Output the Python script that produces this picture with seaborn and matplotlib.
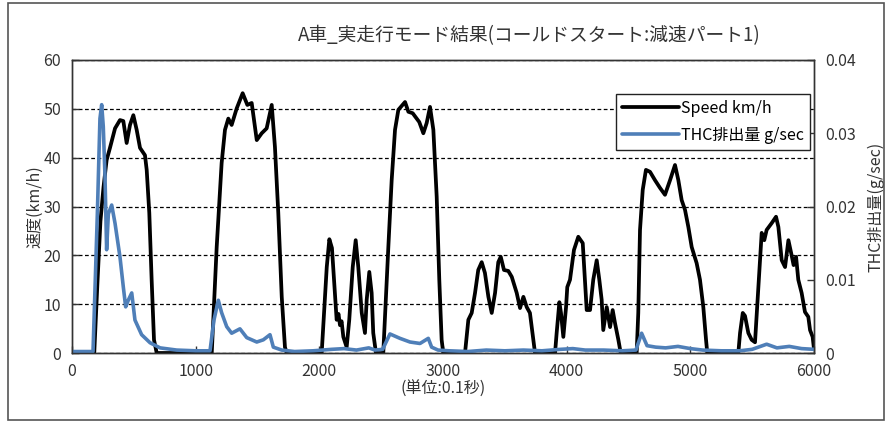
import numpy as np
import pandas as pd
import matplotlib
matplotlib.use("Agg")
import matplotlib.pyplot as plt
from matplotlib.patches import Rectangle
import seaborn as sns

# Vehicle speed (km/h) against time (unit: 0.1 s)
speed_t = [0, 150, 180, 205, 230, 255, 280, 307, 348, 388, 415, 442, 469, 496, 523, 550, 590, 604, 625, 644, 663, 685,
           1130, 1170, 1210, 1237, 1264, 1291, 1332, 1380, 1418, 1453, 1494, 1534, 1574, 1615, 1641, 1668, 1696, 1722, 1736,
           2019, 2060, 2081, 2102, 2119, 2140, 2155, 2167, 2180, 2194, 2221, 2242, 2270, 2294, 2315, 2343, 2369, 2383, 2404, 2423, 2436, 2458,
           2517, 2558, 2585, 2612, 2639, 2693, 2720, 2755, 2808, 2841, 2868, 2895, 2922, 2949, 2970, 2989, 3002,
           3178, 3205, 3232, 3259, 3285, 3313, 3339, 3367, 3394, 3421, 3447, 3467, 3493, 3528, 3556, 3596, 3623, 3650, 3677, 3703, 3730, 3744,
           3906, 3919, 3941, 3954, 3973, 3995, 4005, 4027, 4059, 4094, 4130, 4162, 4189, 4215, 4243, 4264, 4283, 4296, 4324, 4351, 4372, 4391, 4418, 4437,
           4566, 4579, 4593, 4615, 4641, 4674, 4714, 4755, 4795, 4836, 4876, 4903, 4930, 4957, 4984, 5011, 5051, 5078, 5105, 5127, 5137,
           5388, 5402, 5424, 5442, 5469, 5496, 5523, 5550, 5577, 5598, 5617, 5658, 5693, 5712, 5739, 5766, 5793, 5815, 5835, 5855, 5873, 5900, 5927, 5954, 5968, 5989, 6000]
speed = [0, 0, 0, 14, 27, 34, 39.5, 42, 46, 47.7, 47.5, 43, 46.7, 48.7, 45.7, 42, 40.5, 37.5, 28.7, 15, 2.7, 0,
         0, 21.7, 38.9, 45.7, 48, 46.7, 50.1, 53.2, 50.8, 51.2, 43.6, 45, 46, 50.8, 42.2, 28.7, 11.5, 1.2, 0,
         0, 17.6, 23.3, 21.5, 15, 6.8, 8, 5.7, 6.5, 3.3, 1.2, 6.8, 17.6, 23.1, 17.6, 8.2, 4.1, 10.9, 16.6, 12.3, 4.1, 0,
         0, 21.7, 35.4, 45.7, 49.8, 51.4, 49.4, 49.1, 47.3, 45, 47.1, 50.4, 45.7, 32, 15, 2.7, 0,
         0, 6.8, 8.2, 12.3, 17, 18.6, 16.4, 11.5, 8.2, 12.3, 18.6, 19.7, 17, 16.8, 15.6, 12.3, 9.2, 11.5, 9.4, 8.2, 2.7, 0,
         0, 4.1, 10.4, 8.2, 3.3, 9.4, 13.5, 15, 21.1, 23.8, 22.5, 8.8, 8.8, 15, 19, 15, 10.9, 4.7, 9.4, 5.3, 8.8, 6.1, 2.7, 0,
         0, 8.2, 25.2, 33.4, 37.5, 37.1, 35.4, 33.8, 32.4, 35.4, 38.5, 35.4, 31.3, 29.3, 25.8, 21.7, 18.4, 15, 9.4, 2.7, 0,
         0, 4.1, 8.2, 7.6, 4.1, 2.7, 2.2, 13.5, 24.6, 23.1, 25.2, 26.6, 27.9, 25.8, 19, 17.6, 23.1, 20.5, 18, 19.7, 15, 12.3, 8.4, 7.4, 4.7, 3.3, 0.8]

# THC emission rate (g/sec) against time (unit: 0.1 s)
thc_t = [0, 170, 205, 226, 240, 253, 267, 280, 294, 321, 348, 388, 415, 434, 455, 483, 509, 563, 631, 712, 847, 1000,
         1116, 1148, 1183, 1210, 1251, 1291, 1358, 1413, 1494, 1547, 1601, 1628, 1696, 1800, 1950, 2100, 2200, 2300,
         2400, 2450, 2512, 2571, 2652, 2733, 2814, 2881, 2908, 2960, 3050, 3200, 3350, 3500, 3650, 3800, 3950, 4050,
         4150, 4300, 4450, 4560, 4606, 4650, 4720, 4800, 4900, 5000, 5100, 5250, 5400, 5500, 5617, 5700, 5800, 5900, 6000]
thc = [0.0002, 0.0002, 0.019, 0.032, 0.0339, 0.0309, 0.024, 0.0141, 0.019, 0.0202, 0.0177, 0.0131, 0.009, 0.0063,
       0.0072, 0.0082, 0.0045, 0.0025, 0.0014, 0.0007, 0.0004, 0.0003,
       0.0003, 0.0045, 0.0072, 0.0055, 0.0036, 0.0027, 0.0033, 0.0021, 0.0015, 0.0018, 0.0025, 0.0008, 0.0004, 0.0002,
       0.0003, 0.0005, 0.0006, 0.0004,
       0.0007, 0.0004, 0.0005, 0.0026, 0.002, 0.0015, 0.0013, 0.002, 0.0008, 0.0004, 0.0003, 0.0002, 0.0004, 0.0003,
       0.0004, 0.0003, 0.0005, 0.0006,
       0.0004, 0.0004, 0.0003, 0.0004, 0.0027, 0.001, 0.0008, 0.0007, 0.0009, 0.0006, 0.0004, 0.0003, 0.0003, 0.0005,
       0.0012, 0.0007, 0.0009, 0.0006, 0.0005]

x_ticks = [0, 1000, 2000, 3000, 4000, 5000, 6000]
speed_ticks = [0, 10, 20, 30, 40, 50, 60]
thc_ticks = [0, 0.01, 0.02, 0.03, 0.04]
thc_tick_labels = ["0", "0.01", "0.02", "0.03", "0.04"]

title = "A車_実走行モード結果(コールドスタート:減速パート1)"
x_label = "(単位:0.1秒)"
speed_label = "速度(km/h)"
thc_label = "THC排出量(g/sec)"
speed_name = "Speed km/h"
thc_name = "THC排出量 g/sec"

sns.set_style("white")
plt.rcParams["font.family"] = ["Noto Sans CJK JP", "DejaVu Sans"]

speed_df = pd.DataFrame({"t": speed_t, "v": speed})
thc_df = pd.DataFrame({"t": thc_t, "v": thc})

fig = plt.figure(figsize=(8.86, 4.21), dpi=100)
ax = fig.add_axes([72 / 886, 1 - 353 / 421, (814 - 72) / 886, (353 - 60) / 421])
ax2 = ax.twinx()

text_col = "#333333"
line_blue = "#4f7fb8"

sns.lineplot(data=speed_df, x="t", y="v", ax=ax, color="black", linewidth=2.7,
             label=speed_name, legend=False)
sns.lineplot(data=thc_df, x="t", y="v", ax=ax2, color=line_blue, linewidth=2.6,
             label=thc_name, legend=False)

ax.set_xlim(0, 6000)
ax.set_ylim(0, 60)
ax2.set_ylim(0, 0.04)
ax.set_xticks(x_ticks)
ax.set_yticks(speed_ticks)
ax2.set_yticks(thc_ticks)
ax2.set_yticklabels(thc_tick_labels)

ax.yaxis.grid(True, linestyle=(0, (3, 2)), color="black", linewidth=0.9)
ax.xaxis.grid(False)
ax2.grid(False)

for a in (ax, ax2):
    for s in a.spines.values():
        s.set_color("#333333")
        s.set_linewidth(1.0)
        s.set_visible(True)

ax.tick_params(axis="both", direction="in", length=5, width=1, color="#333333",
               labelsize=11.5, labelcolor=text_col, pad=8)
ax.tick_params(axis="x", bottom=True, pad=7)
ax.tick_params(axis="y", left=True, right=False)
ax2.tick_params(axis="y", direction="in", length=5, width=1, color="#333333",
                labelsize=11.5, labelcolor=text_col, pad=8, right=True)

ax.set_xlabel(x_label, fontsize=11.5, color=text_col, labelpad=1)
ax.set_ylabel(speed_label, fontsize=11.5, color=text_col, labelpad=0)
ax2.set_ylabel(thc_label, fontsize=11.5, color=text_col, labelpad=8)

fig.text(529 / 886, 1 - 36 / 421, title, fontsize=13.5, color=text_col,
         ha="center", va="center")

h1, l1 = ax.get_legend_handles_labels()
h2, l2 = ax2.get_legend_handles_labels()
leg = ax2.legend(h1 + h2, l1 + l2, loc="upper right", bbox_to_anchor=(0.995, 0.885),
                 borderaxespad=0, fontsize=11.5, frameon=True, fancybox=False,
                 handlelength=3.6, handletextpad=0.1, labelspacing=0.6,
                 borderpad=0.4, edgecolor="#222222", framealpha=1)
leg.get_frame().set_linewidth(1.0)
for t in leg.get_texts():
    t.set_color("black")

# outer chart frame
fig.patches.append(Rectangle((8 / 886, 1 / 421), 876 / 886, 417 / 421,
                             transform=fig.transFigure, fill=False,
                             edgecolor="#555555", linewidth=1.2))

fig.savefig("out.png", dpi=100)
